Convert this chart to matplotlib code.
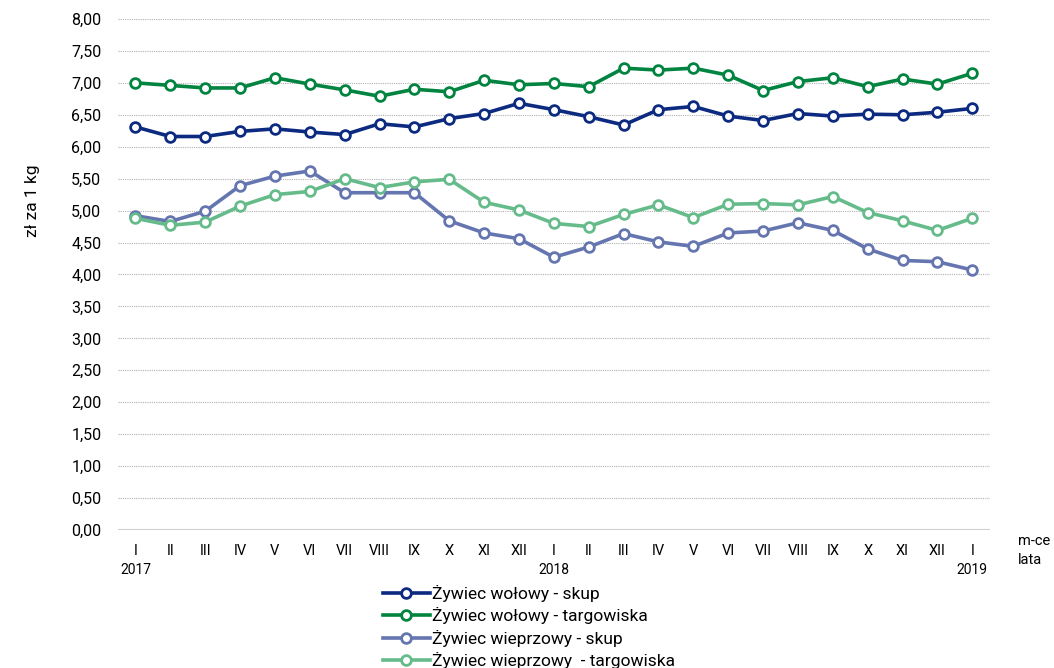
import numpy as np
import matplotlib as mpl
import matplotlib.pyplot as plt

plt.switch_backend('Agg')

# month labels (I 2017 .. I 2019)
months = ['I', 'II', 'III', 'IV', 'V', 'VI', 'VII', 'VIII', 'IX', 'X', 'XI', 'XII',
          'I', 'II', 'III', 'IV', 'V', 'VI', 'VII', 'VIII', 'IX', 'X', 'XI', 'XII',
          'I']
years = ['2017', '2018', '2019']
year_pos = [0, 12, 24]

wol_skup = [6.31, 6.16, 6.16, 6.24, 6.28, 6.23, 6.19, 6.36, 6.31, 6.44, 6.52, 6.68,
            6.58, 6.47, 6.34, 6.58, 6.63, 6.48, 6.41, 6.52, 6.48, 6.51, 6.50, 6.54,
            6.60]
wol_targ = [7.00, 6.96, 6.92, 6.92, 7.08, 6.98, 6.89, 6.79, 6.90, 6.86, 7.04, 6.97,
            6.99, 6.94, 7.23, 7.20, 7.23, 7.12, 6.88, 7.02, 7.08, 6.94, 7.06, 6.98,
            7.15]
wiep_skup = [4.92, 4.83, 4.99, 5.39, 5.54, 5.62, 5.28, 5.28, 5.28, 4.84, 4.65, 4.56,
             4.27, 4.43, 4.64, 4.51, 4.44, 4.65, 4.68, 4.81, 4.69, 4.40, 4.22, 4.20,
             4.07]
wiep_targ = [4.88, 4.77, 4.82, 5.07, 5.25, 5.30, 5.50, 5.36, 5.45, 5.49, 5.13, 5.01,
             4.80, 4.75, 4.94, 5.09, 4.89, 5.10, 5.11, 5.09, 5.22, 4.97, 4.84, 4.69,
             4.88]

series = [
    (wol_skup, '#0b2a80', 'Żywiec wołowy - skup'),
    (wol_targ, '#00843f', 'Żywiec wołowy - targowiska'),
    (wiep_skup, '#6575af', 'Żywiec wieprzowy - skup'),
    (wiep_targ, '#66bb8b', 'Żywiec wieprzowy  - targowiska'),
]

mpl.rcParams['font.family'] = ['Roboto', 'DejaVu Sans']

fig = plt.figure(figsize=(10.54, 6.68), dpi=100)
axes = fig.add_axes([0.112, 0.2066, 0.827, 0.765])

x = np.arange(len(months))
for values, color, label in series:
    axes.plot(x, values, lw=2.6, color=color, marker='o', markersize=7,
              markerfacecolor='white', markeredgecolor=color, markeredgewidth=2,
              label=label)

axes.set_xlim(-0.5, len(months) - 0.5)
axes.set_ylim(0, 8)
axes.set_yticks(np.arange(0, 8.01, 0.5))
axes.set_yticklabels([f'{v:.2f}'.replace('.', ',') for v in np.arange(0, 8.01, 0.5)],
                     fontsize=11.5)
axes.yaxis.grid(True, color='#b0b0b0', linestyle=(0, (1, 1)), lw=0.8)
axes.axhline(0, color='#d0d0d0', lw=1.5)
axes.set_axisbelow(True)

axes.set_xticks(x)
axes.set_xticklabels(months, fontsize=10.5)
axes.tick_params(axis='both', length=0)
axes.tick_params(axis='x', pad=10)
axes.tick_params(axis='y', pad=12)
for spine in axes.spines.values():
    spine.set_visible(False)

for pos, yr in zip(year_pos, years):
    axes.annotate(yr, xy=(pos, 0), xycoords=('data', 'axes fraction'),
                  xytext=(0, -29), textcoords='offset points',
                  ha='center', va='center', fontsize=10)

fig.text(0.966, 0.19, 'm-ce', fontsize=10.5, ha='left', va='center')
fig.text(0.966, 0.161, 'lata', fontsize=10.5, ha='left', va='center')

axes.set_ylabel('zł za 1 kg', fontsize=12.5)
axes.yaxis.set_label_coords(-0.089, 0.644)

fig.legend(loc='upper left', bbox_to_anchor=(0.355, 0.137), frameon=False,
           fontsize=12.5, handlelength=2.7, handletextpad=0.15, labelspacing=0.3,
           borderpad=0)

fig.savefig('out.png', dpi=100)
plt.close(fig)
